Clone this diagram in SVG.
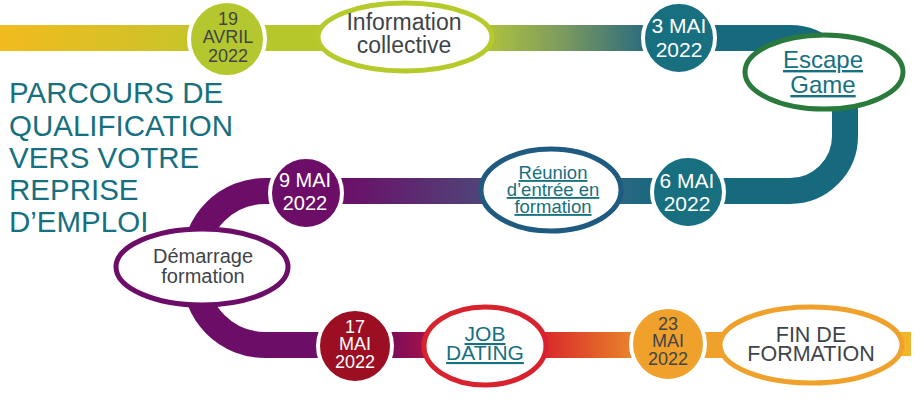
<svg xmlns="http://www.w3.org/2000/svg" width="924" height="410" viewBox="0 0 924 410">
<defs>
<linearGradient id="gTop" x1="0" y1="0" x2="200" y2="0" gradientUnits="userSpaceOnUse"><stop offset="0" stop-color="#f2bb1f"/><stop offset="1" stop-color="#c6c42b"/></linearGradient>
<linearGradient id="gLimeTeal" x1="480" y1="0" x2="645" y2="0" gradientUnits="userSpaceOnUse"><stop offset="0" stop-color="#b3c63a"/><stop offset="0.5" stop-color="#7d9a5f"/><stop offset="1" stop-color="#2b6c7d"/></linearGradient>
<linearGradient id="gPurpBlue" x1="340" y1="0" x2="490" y2="0" gradientUnits="userSpaceOnUse"><stop offset="0" stop-color="#6c0d68"/><stop offset="1" stop-color="#4e4779"/></linearGradient>
<linearGradient id="gPurpRed" x1="390" y1="0" x2="430" y2="0" gradientUnits="userSpaceOnUse"><stop offset="0" stop-color="#7a0d5a"/><stop offset="1" stop-color="#a5124a"/></linearGradient>
<linearGradient id="gRedOrange" x1="545" y1="0" x2="632" y2="0" gradientUnits="userSpaceOnUse"><stop offset="0" stop-color="#d92a2a"/><stop offset="1" stop-color="#e8832a"/></linearGradient>
<linearGradient id="gTealMid" x1="615" y1="0" x2="655" y2="0" gradientUnits="userSpaceOnUse"><stop offset="0" stop-color="#2f6684"/><stop offset="1" stop-color="#17697e"/></linearGradient>
</defs>
<style>
.t{font-family:"Liberation Sans",Arial,sans-serif;text-anchor:middle}
.dk{fill:#3f4449}
.wh{fill:#ffffff}
.tl{fill:#17707f}
.u{text-decoration:underline}
.date{stroke:#ffffff;stroke-width:4}
.ell{fill:#ffffff;stroke-width:5}
.band{fill:none;stroke-width:26}
</style>
<g id="connectors">
<rect x="0" y="25" width="200" height="26" fill="url(#gTop)"/>
<rect x="255" y="25" width="70" height="26" fill="#b6c72c"/>
<rect x="480" y="25" width="170" height="26" fill="url(#gLimeTeal)"/>
<path class="band" stroke="#17697e" d="M 710 38 L 790 38 A 55 55 0 0 1 845 93 L 845 136 A 55 55 0 0 1 790 191 L 715 191"/>
<rect x="612" y="178" width="48" height="26" fill="url(#gTealMid)"/>
<rect x="340" y="178" width="150" height="26" fill="url(#gPurpBlue)"/>
<path class="band" stroke="#6c0d68" d="M 310 191 L 265 191 A 70 70 0 0 0 195 261 L 195 275 A 70 70 0 0 0 265 345 L 340 345"/>
<rect x="388" y="332" width="44" height="26" fill="url(#gPurpRed)"/>
<rect x="540" y="332" width="95" height="26" fill="url(#gRedOrange)"/>
<rect x="700" y="332" width="30" height="26" fill="#f0a12b"/>
<rect x="895" y="332" width="16" height="24" fill="#f2b62a"/>
</g>
<g id="title">
<text class="t tl" style="text-anchor:start" font-size="29.5"><tspan x="9" y="103">PARCOURS DE</tspan><tspan x="9" y="136">QUALIFICATION</tspan><tspan x="9" y="168">VERS VOTRE</tspan><tspan x="9" y="200">REPRISE</tspan><tspan x="9" y="232">D’EMPLOI</tspan></text>
</g>
<g id="d19avril">
<circle class="date" cx="227" cy="39" r="38" fill="#b5c72e"/>
<text class="t dk" font-size="18"><tspan x="228" y="25">19</tspan><tspan x="228" y="43">AVRIL</tspan><tspan x="228" y="62">2022</tspan></text>
</g>
<g id="infoCollective">
<ellipse class="ell" cx="405" cy="37" rx="87" ry="34" stroke="#b6ca2b"/>
<text class="t dk" font-size="23"><tspan x="404" y="30">Information</tspan><tspan x="404" y="53">collective</tspan></text>
</g>
<g id="d3mai">
<circle class="date" cx="679" cy="38" r="36" fill="#176f80"/>
<text class="t wh" font-size="21"><tspan x="679" y="33">3 MAI</tspan><tspan x="679" y="57">2022</tspan></text>
</g>
<g id="escapeGame">
<ellipse class="ell" cx="824" cy="72" rx="79" ry="37" stroke="#2a7a3e" stroke-width="6"/>
<text class="t tl u" font-size="24"><tspan x="823" y="68">Escape</tspan><tspan x="823" y="93">Game</tspan></text>
</g>
<g id="d6mai">
<circle class="date" cx="688" cy="192" r="36" fill="#176f80"/>
<text class="t wh" font-size="21"><tspan x="687" y="188">6 MAI</tspan><tspan x="687" y="211">2022</tspan></text>
</g>
<g id="reunion">
<ellipse class="ell" cx="551" cy="190" rx="70" ry="41" stroke="#1f5b80"/>
<text class="t tl u" font-size="18.5"><tspan x="553" y="179">Réunion</tspan><tspan x="553" y="196">d’entrée en</tspan><tspan x="553" y="213">formation</tspan></text>
</g>
<g id="d9mai">
<circle class="date" cx="306" cy="193" r="36" fill="#6c0d68"/>
<text class="t wh" font-size="20"><tspan x="305" y="187">9 MAI</tspan><tspan x="305" y="210">2022</tspan></text>
</g>
<g id="demarrage">
<ellipse class="ell" cx="202" cy="267" rx="86" ry="38" stroke="#6c0d68" stroke-width="6"/>
<text class="t dk" font-size="20"><tspan x="203" y="263">Démarrage</tspan><tspan x="203" y="283">formation</tspan></text>
</g>
<g id="d17mai">
<circle class="date" cx="355" cy="346" r="37" fill="#9c0f22"/>
<text class="t wh" font-size="18"><tspan x="355" y="333">17</tspan><tspan x="355" y="350">MAI</tspan><tspan x="355" y="368">2022</tspan></text>
</g>
<g id="jobDating">
<ellipse class="ell" cx="485" cy="346" rx="61" ry="39" stroke="#d8232e" stroke-width="6"/>
<text class="t tl u" font-size="21"><tspan x="485" y="341">JOB</tspan><tspan x="485" y="360">DATING</tspan></text>
</g>
<g id="d23mai">
<circle class="date" cx="668" cy="344" r="37" fill="#f0a12b"/>
<text class="t dk" font-size="18"><tspan x="668" y="330">23</tspan><tspan x="668" y="347">MAI</tspan><tspan x="668" y="365">2022</tspan></text>
</g>
<g id="finFormation">
<ellipse class="ell" cx="811" cy="345" rx="91" ry="38" stroke="#f0a12b" stroke-width="6"/>
<text class="t dk" font-size="21.5"><tspan x="811" y="342">FIN DE</tspan><tspan x="811" y="361">FORMATION</tspan></text>
</g>
</svg>
